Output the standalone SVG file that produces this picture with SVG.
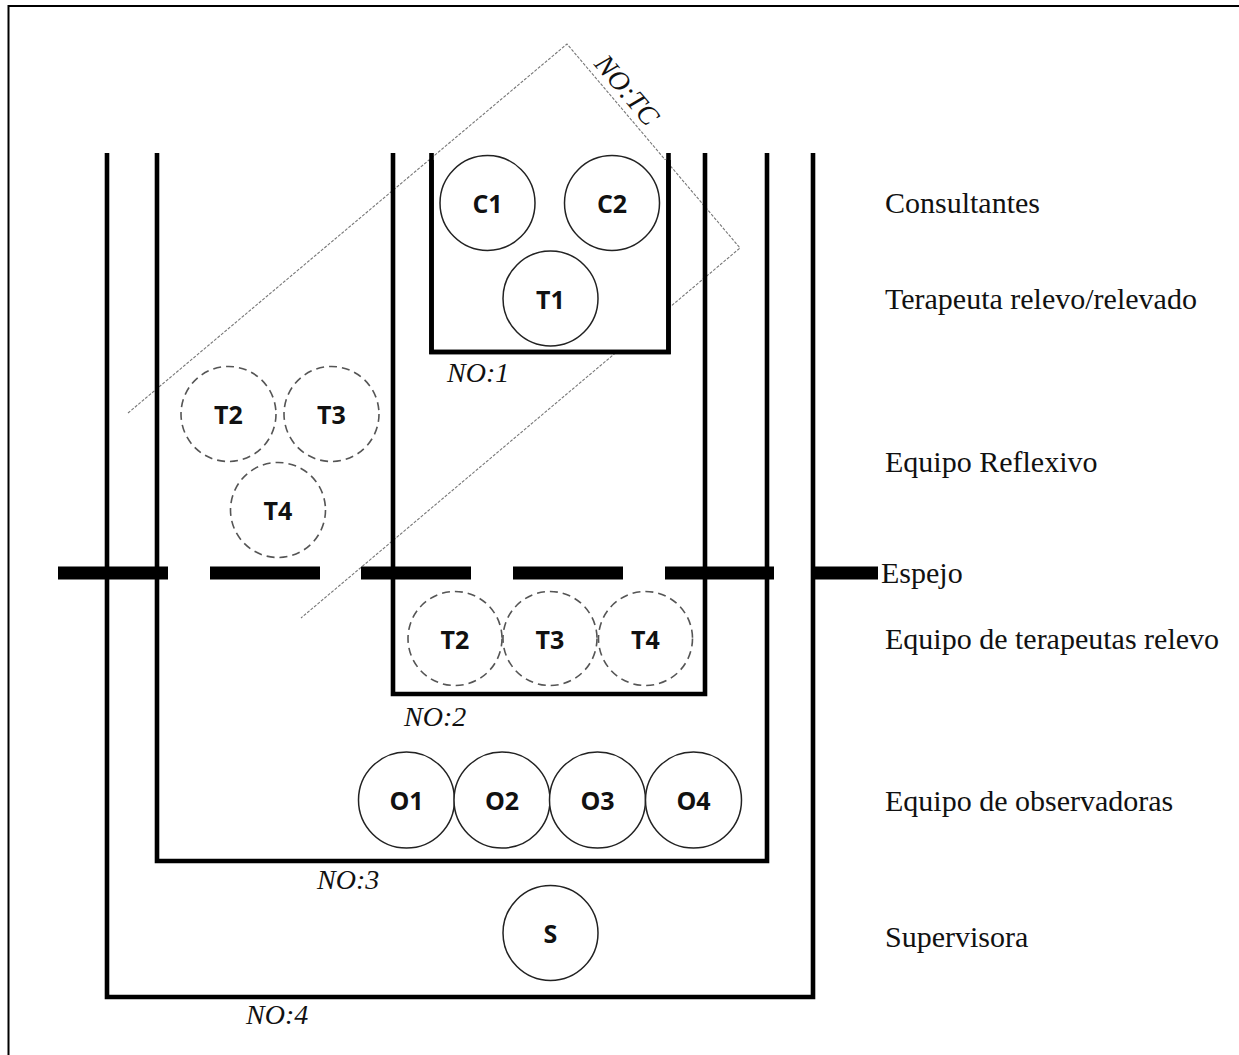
<svg xmlns="http://www.w3.org/2000/svg" width="1239" height="1055" viewBox="0 0 1239 1055">
<style>
.wall{fill:none;stroke:#000;stroke-width:4.6;stroke-linejoin:miter;stroke-linecap:butt}
.frame{fill:none;stroke:#000;stroke-width:2}
.p{fill:#fff;stroke:#222;stroke-width:1.5}
.pd{fill:none;stroke:#555;stroke-width:1.6;stroke-dasharray:8 5}
.pl{font-family:"Open Sans","Liberation Sans",sans-serif;font-weight:bold;font-size:25px;text-anchor:middle;fill:#111}
.lab{font-family:"Liberation Serif","Times New Roman",serif;font-size:30px;fill:#111}
.no{font-family:"Liberation Serif","Times New Roman",serif;font-style:italic;font-size:28px;fill:#111}
.tc{fill:none;stroke:#777;stroke-width:1.1;stroke-dasharray:3 1.5}
.mirror{fill:#000}
</style>
<rect width="1239" height="1055" fill="#fff"/>
<path class="frame" d="M8.5,1055 V6 H1239"/>

<g id="connectors">
  <g id="notc">
    <polyline class="tc" points="128,413 567,44 740,248 301,618"/>
    <text class="no" font-size="29" transform="translate(620,96) rotate(49.7)" text-anchor="middle">NO:TC</text>
  </g>
  <g id="no4"><path class="wall" d="M107,153 V997 H813 V153"/><text class="no" x="246" y="1024">NO:4</text></g>
  <g id="no3"><path class="wall" d="M157,153 V861 H767 V153"/><text class="no" x="317" y="889">NO:3</text></g>
  <g id="no2"><path class="wall" d="M393,153 V694 H705 V153"/><text class="no" x="404" y="726">NO:2</text></g>
  <g id="no1"><path class="wall" style="fill:#fff" d="M431.5,160 V352 H668.5 V160"/><path class="wall" d="M431.5,153 V352 H668.5 V153"/><text class="no" x="447" y="382">NO:1</text></g>
  <g id="espejo">
    <rect class="mirror" x="58" y="566.5" width="110" height="13"/>
    <rect class="mirror" x="210" y="566.5" width="110" height="13"/>
    <rect class="mirror" x="361" y="566.5" width="110" height="13"/>
    <rect class="mirror" x="513" y="566.5" width="110" height="13"/>
    <rect class="mirror" x="665" y="566.5" width="109" height="13"/>
    <rect class="mirror" x="815" y="566.5" width="63" height="13"/>
  </g>
</g>

<g id="C1"><circle class="p" cx="487.5" cy="203" r="47.5"/><text class="pl" x="487.5" y="213">C1</text></g>
<g id="C2"><circle class="p" cx="612" cy="203" r="47.5"/><text class="pl" x="612" y="213">C2</text></g>
<g id="T1"><circle class="p" cx="550.5" cy="298.5" r="47.5"/><text class="pl" x="550.5" y="308.5">T1</text></g>

<g id="T2r"><circle class="pd" cx="228.5" cy="414" r="47.5"/><text class="pl" x="228.5" y="424">T2</text></g>
<g id="T3r"><circle class="pd" cx="331.5" cy="414" r="47.5"/><text class="pl" x="331.5" y="424">T3</text></g>
<g id="T4r"><circle class="pd" cx="278" cy="510" r="47.5"/><text class="pl" x="278" y="520">T4</text></g>

<g id="T2"><circle class="pd" cx="455" cy="638.5" r="47"/><text class="pl" x="455" y="648.5">T2</text></g>
<g id="T3"><circle class="pd" cx="550" cy="638.5" r="47"/><text class="pl" x="550" y="648.5">T3</text></g>
<g id="T4"><circle class="pd" cx="645.5" cy="638.5" r="47"/><text class="pl" x="645.5" y="648.5">T4</text></g>

<g id="O1"><circle class="p" cx="406.5" cy="800" r="48"/><text class="pl" x="406.5" y="810">O1</text></g>
<g id="O2"><circle class="p" cx="502" cy="800" r="48"/><text class="pl" x="502" y="810">O2</text></g>
<g id="O3"><circle class="p" cx="597.5" cy="800" r="48"/><text class="pl" x="597.5" y="810">O3</text></g>
<g id="O4"><circle class="p" cx="693.5" cy="800" r="48"/><text class="pl" x="693.5" y="810">O4</text></g>

<g id="S"><circle class="p" cx="550.5" cy="933" r="47.5"/><text class="pl" x="550.5" y="943">S</text></g>

<g id="labels">
  <text class="lab" x="885" y="213">Consultantes</text>
  <text class="lab" x="885" y="309">Terapeuta relevo/relevado</text>
  <text class="lab" x="885" y="472">Equipo Reflexivo</text>
  <text class="lab" x="881" y="583">Espejo</text>
  <text class="lab" x="885" y="649">Equipo de terapeutas relevo</text>
  <text class="lab" x="885" y="811">Equipo de observadoras</text>
  <text class="lab" x="885" y="947">Supervisora</text>
</g>
</svg>
